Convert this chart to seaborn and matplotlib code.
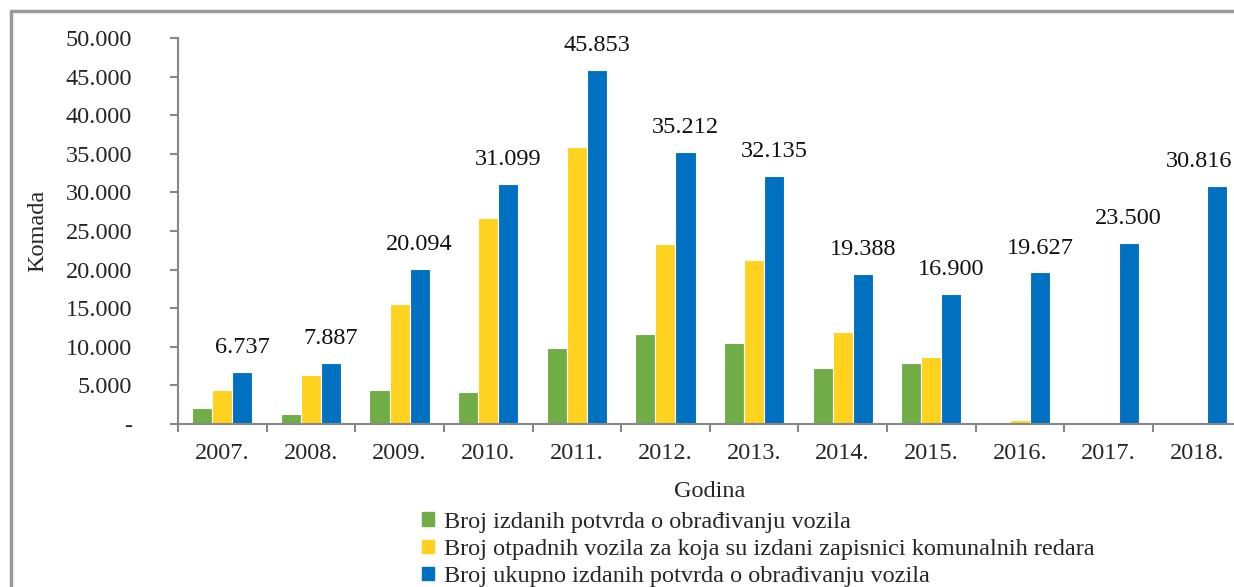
import numpy as np
import pandas as pd
import seaborn as sns
import matplotlib.pyplot as plt
from matplotlib.ticker import FuncFormatter, FixedLocator
from matplotlib.lines import Line2D

# data
years = ['2007.', '2008.', '2009.', '2010.', '2011.', '2012.',
         '2013.', '2014.', '2015.', '2016.', '2017.', '2018.']
potvrde = [2100, 1250, 4400, 4200, 9900, 11700, 10500, 7200, 7900, 0, 0, 0]
zapisnici = [4400, 6400, 15600, 26700, 35900, 23300, 21300, 11900, 8700, 550, 0, 0]
ukupno = [6737, 7887, 20094, 31099, 45853, 35212, 32135, 19388, 16900, 19627, 23500, 30816]

series_names = ['Broj izdanih potvrda o obrađivanju vozila',
                'Broj otpadnih vozila za koja su izdani zapisnici komunalnih redara',
                'Broj ukupno izdanih potvrda o obrađivanju vozila']
colors = ['#70AD47', '#FFD21F', '#0070C0']

df = pd.DataFrame({
    'Godina': years * 3,
    'Komada': potvrde + zapisnici + ukupno,
    'serija': [series_names[0]] * 12 + [series_names[1]] * 12 + [series_names[2]] * 12,
})

sns.set_style('white')
plt.rcParams['font.family'] = ['Liberation Serif', 'DejaVu Serif']
fs = 17.5

fig = plt.figure(figsize=(12.34, 5.87), dpi=100)
ax = fig.add_axes([178 / 1234, 1 - 424 / 587, 1063.5 / 1234, 386 / 587])

sns.barplot(data=df, x='Godina', y='Komada', hue='serija', hue_order=series_names,
            palette=colors, saturation=1, width=0.68, edgecolor='white', linewidth=0.8,
            legend=False, ax=ax)

# labels on the total bars
blue = ax.containers[2]
anns = ax.bar_label(blue, labels=[f'{v:,}'.replace(',', '.') for v in ukupno],
                    padding=10, fontsize=fs, color='#111111')
# last label is pushed left so it stays inside the picture, like in the original
anns[-1].set_horizontalalignment('right')
anns[-1].xyann = (11, 10)

ax.set_ylim(0, 50000)
ax.set_xlim(-0.5, 11.5)
ax.set_yticks(np.arange(0, 50001, 5000))
ax.yaxis.set_major_formatter(FuncFormatter(
    lambda v, p: '-' if v == 0 else f'{int(v):,}'.replace(',', '.')))
ax.xaxis.set_minor_locator(FixedLocator(np.arange(-0.5, 12, 1)))
ax.tick_params(axis='x', which='major', bottom=True, length=0, labelsize=fs, pad=14)
ax.tick_params(axis='x', which='minor', bottom=True, length=6, width=1.5, color='#888888')
ax.tick_params(axis='y', left=True, length=6, width=1.5, color='#888888', labelsize=fs, pad=27)

for s in ['top', 'right']:
    ax.spines[s].set_visible(False)
for s in ['left', 'bottom']:
    ax.spines[s].set_color('#888888')
    ax.spines[s].set_linewidth(1.5)

ax.set_xlabel('Godina', fontsize=fs, labelpad=12)
ax.set_ylabel('Komada', fontsize=fs)
ax.yaxis.set_label_coords(-130 / 1063.5, 0.5)

handles = [plt.Rectangle((0, 0), 1, 1, color=c) for c in colors]
fig.legend(handles, series_names, loc='upper left', bbox_to_anchor=(422 / 1234, 1 - 512 / 587),
           frameon=False, fontsize=fs, handlelength=0.5, handleheight=0.5,
           handletextpad=0.4, labelspacing=0.25, borderpad=0, borderaxespad=0)

# outer frame of the chart area
fig.add_artist(Line2D([11 / 1234, 11 / 1234], [0, 1 - 11 / 587], color='#999999', lw=2.5))
fig.add_artist(Line2D([11 / 1234, 1], [1 - 11 / 587, 1 - 11 / 587], color='#999999', lw=2.5))

fig.savefig('out.png', dpi=100)
